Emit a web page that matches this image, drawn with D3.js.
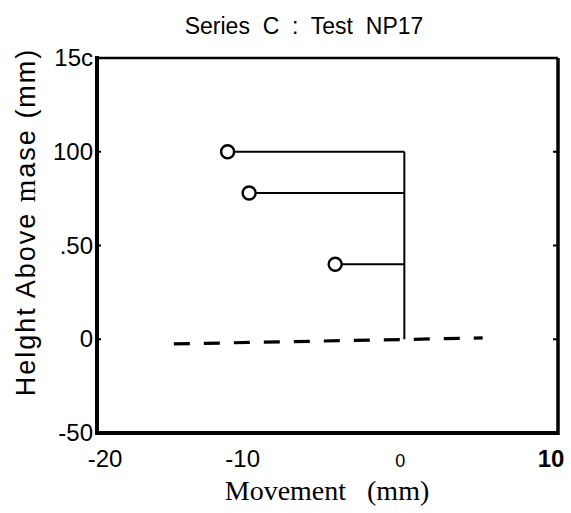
<!DOCTYPE html>
<html>
<head>
<meta charset="utf-8">
<script src="https://cdn.jsdelivr.net/npm/d3@7"></script>
<style>
  html, body { margin: 0; padding: 0; background: #fff; }
  svg text { white-space: pre; }
</style>
</head>
<body>
<svg id="chart" width="571" height="513"></svg>
<script>
// Measured points: horizontal offset (mm) at each height (mm)
const pointX = [-11.5, -10.1, -4.5];
const pointY = [100, 78, 40];

// Vertical reference line at zero movement
const stemX = [0, 0];
const stemY = [0, 100];

// Dashed base line
const baseX = [-15, 5.1];
const baseY = [-2.5, 0.7];

// Axis ticks and their printed labels
const yTicks = [150, 100, 50, 0, -50];
const yTickLabels = ["15c", "100", ".50", "0", "-50"];
const xTicks = [-20, -10, 0, 10];
const xTickLabels = ["-20", "-10", "0", "10"];

const svg = d3.select("#chart");
const plotLeft = 97, plotRight = 558, plotTop = 58, plotBottom = 433;

const x = d3.scaleLinear().domain([-20, 10]).range([plotLeft, plotRight]);
const y = d3.scaleLinear().domain([-50, 150]).range([plotBottom, plotTop]);

const sans = "'Liberation Sans', Arial, sans-serif";
const serif = "'Liberation Serif', 'Times New Roman', serif";

// Title
svg.append("text")
  .attr("x", 304).attr("y", 34)
  .attr("text-anchor", "middle")
  .attr("font-family", sans).attr("font-size", 23)
  .text("Series  C  :  Test  NP17");

// Frame
const frame = svg.append("g").attr("stroke", "#000").attr("fill", "none");
frame.append("line").attr("x1", plotLeft).attr("x2", plotLeft).attr("y1", plotTop - 2).attr("y2", plotBottom + 2).attr("stroke-width", 4);
frame.append("line").attr("x1", plotLeft).attr("x2", plotRight).attr("y1", plotBottom).attr("y2", plotBottom).attr("stroke-width", 4);
frame.append("line").attr("x1", plotLeft).attr("x2", plotRight).attr("y1", plotTop).attr("y2", plotTop).attr("stroke-width", 2.5);
frame.append("line").attr("x1", plotRight).attr("x2", plotRight).attr("y1", plotTop).attr("y2", plotBottom + 2).attr("stroke-width", 3.5);

// Small inward ticks on left and right edges
const innerTicks = [100, 50, 0];
frame.append("g").selectAll("line").data(innerTicks).join("line")
  .attr("x1", plotLeft).attr("x2", plotLeft + 4)
  .attr("y1", d => y(d)).attr("y2", d => y(d)).attr("stroke-width", 2);
frame.append("g").selectAll("line").data(innerTicks).join("line")
  .attr("x1", plotRight - 5).attr("x2", plotRight)
  .attr("y1", d => y(d)).attr("y2", d => y(d)).attr("stroke-width", 2);

// Y tick labels
svg.append("g").selectAll("text").data(yTicks).join("text")
  .attr("x", plotLeft - 4)
  .attr("y", d => y(d) + 8)
  .attr("text-anchor", "end")
  .attr("font-family", sans).attr("font-size", 24)
  .text((d, i) => yTickLabels[i]);

// X tick labels (printed slightly off their tick positions)
const xLabelShift = { "-20": 8, "-10": -8, "0": -4, "10": -7 };
svg.append("g").selectAll("text").data(xTicks).join("text")
  .attr("x", d => x(d) + xLabelShift[d])
  .attr("y", 467)
  .attr("text-anchor", "middle")
  .attr("font-family", sans)
  .attr("font-size", d => d === 0 ? 18 : 24)
  .attr("font-weight", d => d === 10 ? "bold" : "normal")
  .text((d, i) => xTickLabels[i]);

// Axis titles
svg.append("text")
  .attr("x", 327).attr("y", 500)
  .attr("text-anchor", "middle")
  .attr("font-family", serif).attr("font-size", 28)
  .text("Movement   (mm)");

const yTitle = svg.append("text")
  .attr("transform", "translate(35,222) rotate(-90)")
  .attr("text-anchor", "middle")
  .attr("font-family", sans).attr("font-size", 27)
  .attr("letter-spacing", 2);
yTitle.append("tspan").text("Helght Above ");
yTitle.append("tspan").attr("font-family", serif).attr("font-size", 29).text("m");
yTitle.append("tspan").text("ase (mm)");

// Dashed base line
svg.append("line")
  .attr("x1", x(baseX[0])).attr("y1", y(baseY[0]))
  .attr("x2", x(baseX[1])).attr("y2", y(baseY[1]))
  .attr("stroke", "#000").attr("stroke-width", 3.2)
  .attr("stroke-dasharray", "16 14");

// Vertical stem
svg.append("line")
  .attr("x1", x(stemX[0])).attr("y1", y(stemY[0]))
  .attr("x2", x(stemX[1])).attr("y2", y(stemY[1]))
  .attr("stroke", "#000").attr("stroke-width", 2);

// Horizontal links from stem to each point
const pts = pointX.map((v, i) => ({ x: v, y: pointY[i] }));
svg.append("g").selectAll("line").data(pts).join("line")
  .attr("x1", d => x(d.x)).attr("x2", x(0))
  .attr("y1", d => y(d.y)).attr("y2", d => y(d.y))
  .attr("stroke", "#000").attr("stroke-width", 2);

// Point markers
svg.append("g").selectAll("circle").data(pts).join("circle")
  .attr("cx", d => x(d.x)).attr("cy", d => y(d.y))
  .attr("r", 6.5)
  .attr("fill", "#fff").attr("stroke", "#000").attr("stroke-width", 2.4);
</script>
</body>
</html>
